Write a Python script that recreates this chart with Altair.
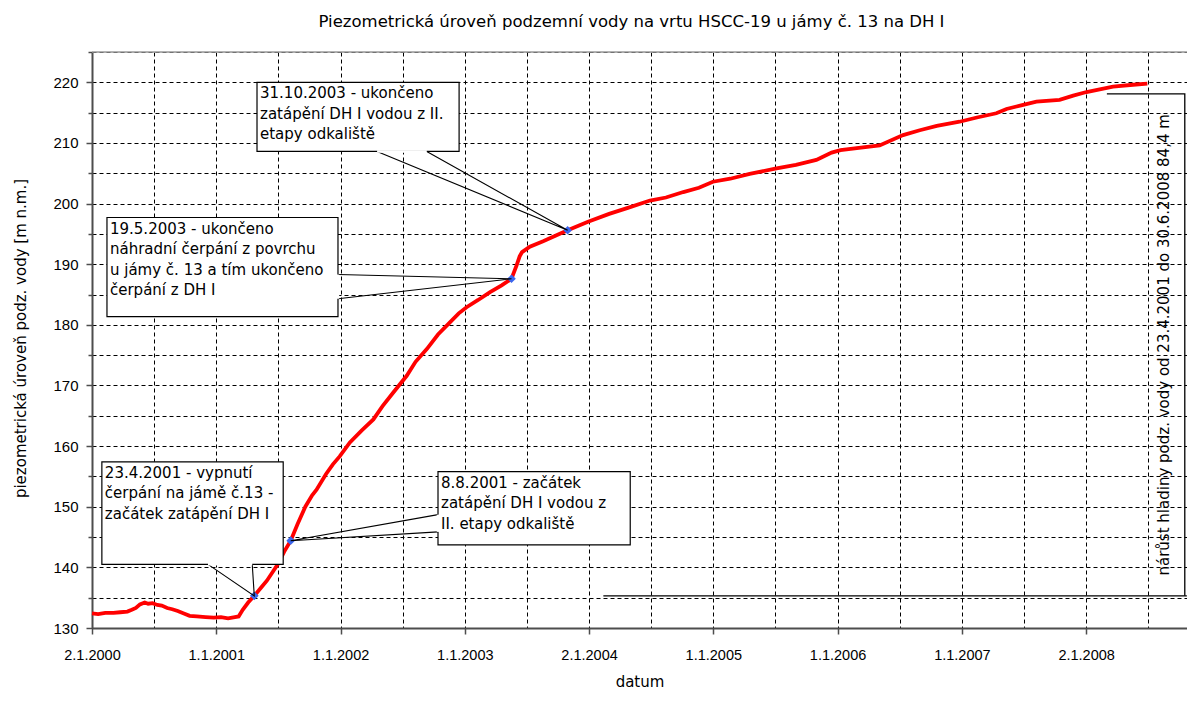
import altair as alt
import pandas as pd

# ---------------- data ----------------
dates = [
    "2000-01-02", "2000-01-20", "2000-02-10", "2000-03-05", "2000-03-25", "2000-04-15",
    "2000-04-28", "2000-05-10", "2000-05-22", "2000-06-05", "2000-06-15", "2000-06-28",
    "2000-07-12", "2000-07-25", "2000-08-10", "2000-08-25", "2000-09-10", "2000-09-28",
    "2000-10-15", "2000-11-05", "2000-12-01", "2000-12-25", "2001-01-15", "2001-02-05",
    "2001-02-25", "2001-03-08", "2001-03-20", "2001-04-05", "2001-04-23", "2001-05-12",
    "2001-05-30", "2001-06-18", "2001-07-02", "2001-07-20", "2001-08-08", "2001-08-28",
    "2001-09-20", "2001-10-10", "2001-10-23", "2001-11-20", "2001-12-10", "2001-12-30",
    "2002-01-29", "2002-03-05", "2002-04-08", "2002-05-05", "2002-06-05", "2002-07-15",
    "2002-08-10", "2002-09-12", "2002-10-15", "2002-11-19", "2002-12-15", "2003-01-07",
    "2003-02-10", "2003-03-17", "2003-04-20", "2003-05-19", "2003-06-03", "2003-06-12",
    "2003-06-19", "2003-07-12", "2003-08-20", "2003-09-25", "2003-10-31", "2003-12-30",
    "2004-03-01", "2004-04-25", "2004-06-29", "2004-08-15", "2004-10-05", "2004-11-20",
    "2004-12-31", "2005-02-20", "2005-04-18", "2005-07-06", "2005-09-01", "2005-10-31",
    "2005-11-15", "2005-12-15", "2006-01-10", "2006-03-05", "2006-05-05", "2006-07-13",
    "2006-08-31", "2006-10-20", "2006-12-26", "2007-02-15", "2007-04-13", "2007-05-13",
    "2007-06-25", "2007-08-09", "2007-10-16", "2007-11-25", "2008-01-03", "2008-03-21",
    "2008-05-19", "2008-06-30",
]
levels = [
    132.4, 132.3, 132.5, 132.5, 132.6, 132.7,
    133.0, 133.3, 133.9, 134.2, 134.0, 134.1,
    133.8, 133.7, 133.3, 133.1, 132.8, 132.4,
    132.0, 131.9, 131.8, 131.7, 131.8, 131.6,
    131.8, 131.9, 133.0, 134.2, 135.3, 136.6,
    137.8, 139.4, 140.6, 142.6, 144.4, 147.1,
    150.0, 151.9, 152.8, 155.4, 157.0, 158.3,
    160.6, 162.6, 164.4, 166.6, 168.8, 171.6,
    173.9, 176.0, 178.4, 180.4, 181.9, 182.9,
    184.1, 185.4, 186.5, 187.6, 189.8, 191.3,
    192.0, 192.9, 193.8, 194.7, 195.6, 197.0,
    198.3, 199.3, 200.5, 201.0, 201.9, 202.6,
    203.6, 204.1, 204.9, 205.8, 206.4, 207.2,
    207.6, 208.4, 208.8, 209.2, 209.6, 211.3,
    212.1, 212.8, 213.5, 214.2, 214.9, 215.6,
    216.2, 216.8, 217.1, 217.8, 218.4, 219.3,
    219.6, 219.8,
]

event_dates = ["2001-04-23", "2001-08-08", "2003-05-19", "2003-10-31"]
event_levels = [135.3, 144.4, 187.6, 195.6]

chart_title = "Piezometrická úroveň podzemní vody na vrtu HSCC-19 u jámy č. 13 na DH I"
y_title = "piezometrická úroveň podz. vody [m n.m.]"
x_title = "datum"

x_tick_dates = [
    "2000-01-02T00:00", "2000-07-02T15:00", "2001-01-01T06:00", "2001-07-02T21:00",
    "2002-01-01T12:00", "2002-07-03T03:00", "2003-01-01T18:00", "2003-07-03T09:00",
    "2004-01-02T00:00", "2004-07-02T15:00", "2005-01-01T06:00", "2005-07-02T21:00",
    "2006-01-01T12:00", "2006-07-03T03:00", "2007-01-01T18:00", "2007-07-03T09:00",
    "2008-01-02T00:00", "2008-07-02T15:00",
]
x_domain = ["2000-01-02T00:00", "2008-10-24T12:00"]
y_ticks = [130, 135, 140, 145, 150, 155, 160, 165, 170, 175, 180, 185, 190, 195,
           200, 205, 210, 215, 220, 225]
y_domain = [130, 225]

# callout boxes (left, right, top, bottom)
box_x1 = ["2001-05-01", "2000-02-15", "2000-01-31", "2002-10-15"]
box_x2 = ["2002-12-16", "2001-12-25", "2001-07-17", "2004-05-02"]
box_top = [220.0, 197.7, 157.4, 155.8]
box_bottom = [208.6, 181.35, 140.5, 143.7]
box_text = [
    "31.10.2003 - ukončeno\nzatápění DH I vodou z II.\netapy odkaliště",
    "19.5.2003 - ukončeno\nnáhradní čerpání z povrchu\nu jámy č. 13 a tím ukončeno\nčerpání z DH I",
    "23.4.2001 - vypnutí\nčerpání na jámě č.13 -\nzačátek zatápění DH I",
    "8.8.2001 - začátek\nzatápění DH I vodou z\nII. etapy odkaliště",
]

# callout pointers: base1 -> tip -> base2
ptr_base1_date = ["2002-04-19", "2001-12-25", "2000-12-08", "2002-10-15"]
ptr_base1_val = [208.6, 188.3, 140.5, 148.7]
ptr_tip_date = ["2003-10-31", "2003-05-19", "2001-04-23", "2001-08-08"]
ptr_tip_val = [195.6, 187.6, 135.3, 144.4]
ptr_base2_date = ["2002-09-12", "2001-12-25", "2001-04-17", "2002-10-15"]
ptr_base2_val = [208.6, 184.3, 140.5, 145.85]

# bracket showing the rise
bracket_group = [0, 0, 0, 1, 1]
bracket_dates = ["2008-03-03", "2008-10-18", "2008-10-18", "2004-02-13", "2008-10-24"]
bracket_vals = [218.1, 218.1, 135.3, 135.3, 135.3]
bracket_text = "nárůst hladiny podz. vody od 23.4.2001 do 30.6.2008  84,4 m"
bracket_text_date = "2008-08-19"
bracket_text_val = 176.7

# ---------------- build ----------------
def ms(s):
    return int(pd.Timestamp(s).value // 10**6)

series_df = pd.DataFrame({"date": dates, "level": levels})
events_df = pd.DataFrame({"date": event_dates, "level": event_levels})
boxes_df = pd.DataFrame({"x1": box_x1, "x2": box_x2, "top": box_top,
                         "bottom": box_bottom, "txt": box_text})

ptr_rows, gap_rows = [], []
for i in range(4):
    ptr_rows.append({"g": i, "o": 0, "date": ptr_base1_date[i], "level": ptr_base1_val[i]})
    ptr_rows.append({"g": i, "o": 1, "date": ptr_tip_date[i], "level": ptr_tip_val[i]})
    ptr_rows.append({"g": i, "o": 2, "date": ptr_base2_date[i], "level": ptr_base2_val[i]})
    gap_rows.append({"date": ptr_base1_date[i], "level": ptr_base1_val[i],
                     "d2": ptr_base2_date[i], "v2": ptr_base2_val[i]})
ptr_df = pd.DataFrame(ptr_rows)
gap_df = pd.DataFrame(gap_rows)

br_df = pd.DataFrame({"g": bracket_group, "o": list(range(len(bracket_vals))),
                      "date": bracket_dates, "level": bracket_vals})
brtxt_df = pd.DataFrame({"date": [bracket_text_date], "level": [bracket_text_val],
                         "t": [bracket_text]})
frame_df = pd.DataFrame({"date": [x_domain[0]], "level": [y_domain[1]]})

major_test = "utcmonth(datum.value) == 0"

x_scale = alt.Scale(type="utc", domain=[ms(d) for d in x_domain])
y_scale = alt.Scale(domain=y_domain, nice=False, zero=False)

x_axis = alt.Axis(
    values=[ms(d) for d in x_tick_dates],
    labelExpr=f"{major_test} ? utcFormat(datum.value, '%-d.%-m.%Y') : ''",
    grid=True, gridColor="#000000", gridDash=[4, 3], gridWidth=1, gridOpacity=1,
    tickColor="#4d4d4d", tickSize=6, tickWidth=1.5,
    tickOpacity={"condition": {"test": major_test, "value": 1}, "value": 0},
    domainColor="#4d4d4d", domainWidth=2,
    labelFont="Liberation Sans", labelFontSize=14.5, labelColor="#000000",
    labelPadding=14, labelFlush=False, labelOverlap=False,
    title=x_title, titleFont="DejaVu Sans", titleFontSize=15, titleFontWeight="normal",
    titleColor="#000000", titleY=53, titleBaseline="middle", titleAlign="center",
)
y_axis = alt.Axis(
    values=y_ticks,
    labelExpr="datum.value % 10 == 0 && datum.value <= 220 ? datum.label : ''",
    grid=True, gridColor="#000000", gridDash=[4, 3], gridWidth=1, gridOpacity=1,
    tickColor="#4d4d4d", tickWidth=1.5,
    tickSize={"condition": {"test": "datum.value % 10 == 0", "value": 6}, "value": 4},
    domainColor="#4d4d4d", domainWidth=2,
    labelFont="Liberation Sans", labelFontSize=15, labelColor="#000000",
    labelPadding=8, labelOverlap=False,
    title=y_title, titleFont="DejaVu Sans", titleFontSize=15, titleFontWeight="normal",
    titleColor="#000000", titleAngle=270, titleX=-72, titleY=286,
    titleBaseline="middle", titleAlign="center",
)


def XE(field):
    return alt.X(field, type="temporal", scale=x_scale, axis=x_axis)


def YE(field):
    return alt.Y(field, type="quantitative", scale=y_scale, axis=y_axis)


line = alt.Chart(series_df).mark_line(color="#ff0000", strokeWidth=3.8).encode(
    x=XE("date"), y=YE("level"))

top_frame = alt.Chart(frame_df).mark_rule(color="#9a9a9a", strokeWidth=1.5).encode(
    y=YE("level"))

bracket = alt.Chart(br_df).mark_line(color="#000000", strokeWidth=1.3).encode(
    x=XE("date"), y=YE("level"), detail="g:N", order="o:Q")

bracket_label = alt.Chart(brtxt_df).mark_text(
    angle=270, font="DejaVu Sans", fontSize=15, color="#000000",
    align="center", baseline="middle").encode(x=XE("date"), y=YE("level"), text="t:N")

events = alt.Chart(events_df).mark_point(
    shape="diamond", filled=True, size=75, color="#3a66ee", opacity=1).encode(
    x=XE("date"), y=YE("level"))

boxes = alt.Chart(boxes_df).mark_rect(fill="#ffffff", stroke="#000000", strokeWidth=1.2).encode(
    x=XE("x1"), x2="x2", y=YE("top"), y2="bottom")

gaps = alt.Chart(gap_df).mark_rule(color="#ffffff", strokeWidth=2.5).encode(
    x=XE("date"), x2="d2", y=YE("level"), y2="v2")

pointers = alt.Chart(ptr_df).mark_line(color="#000000", strokeWidth=1.1).encode(
    x=XE("date"), y=YE("level"), detail="g:N", order="o:Q")

box_labels = alt.Chart(boxes_df).mark_text(
    align="left", baseline="top", font="DejaVu Sans", fontSize=15, color="#000000",
    lineBreak="\n", lineHeight=20.5, dx=3, dy=4).encode(
    x=XE("x1"), y=YE("top"), text="txt:N")

chart = alt.layer(
    line, top_frame, bracket, bracket_label, events, pointers, boxes, gaps, box_labels
).properties(
    width=1095, height=576,
    title=alt.Title(chart_title, font="DejaVu Sans", fontSize=16.5, fontWeight="normal",
                    color="#000000", anchor="middle", offset=15, dx=-8),
    autosize=alt.AutoSizeParams(type="none"),
    padding={"left": 84, "top": 44, "right": 0, "bottom": 66},
).configure_view(stroke=None).configure(background="#ffffff")

chart.save("out.html", embed_options={"renderer": "svg", "actions": False})
